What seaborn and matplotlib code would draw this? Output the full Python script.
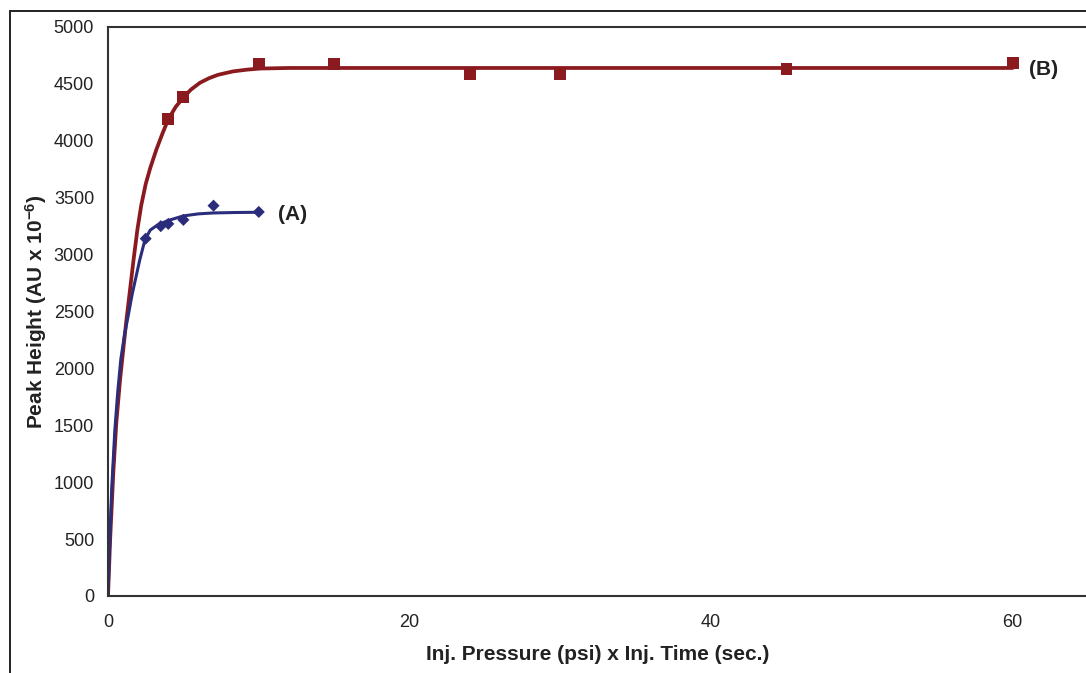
import matplotlib
matplotlib.use("Agg")
import matplotlib.pyplot as plt
import seaborn as sns
from matplotlib.lines import Line2D

# --- DATA ---
# (A) measured points
a_x = [2.5, 3.5, 4, 5, 7, 10]
a_y = [3140, 3250, 3270, 3305, 3430, 3375]
# (B) measured points
b_x = [4, 5, 10, 15, 24, 30, 45, 60]
b_y = [4190, 4385, 4675, 4675, 4590, 4590, 4630, 4685]

# trend curves as traced on the picture
a_curve_x = [0, 0.1, 0.25, 0.45, 0.65, 0.85, 1.1, 1.35, 1.6, 1.85, 2.1, 2.45,
             2.8, 3.3, 4.0, 5.0, 6.0, 7.0, 8.5, 10]
a_curve_y = [0, 420, 950, 1450, 1800, 2080, 2300, 2470, 2650, 2800, 2950, 3130,
             3215, 3262, 3300, 3340, 3358, 3366, 3370, 3372]
b_curve_x = [0, 0.15, 0.35, 0.55, 0.8, 1.0, 1.2, 1.45, 1.7, 1.95, 2.2, 2.5, 2.8,
             3.2, 3.6, 4.0, 4.5, 5.0, 5.5, 6.1, 6.7, 7.3, 8.3, 9.2, 10.1, 12,
             15, 20, 30, 40, 50, 60]
b_curve_y = [0, 520, 1080, 1520, 1900, 2150, 2400, 2680, 2960, 3220, 3430, 3620,
             3760, 3920, 4060, 4190, 4300, 4380, 4450, 4510, 4550, 4580, 4610,
             4625, 4635, 4640, 4640, 4640, 4640, 4640, 4640, 4640]

x_ticks = [0, 20, 40, 60]
y_ticks = list(range(0, 5001, 500))

red = "#8B1A1E"
blue = "#2B2D7C"
dark = "#222222"

sns.set_style("white")
plt.rcParams["font.family"] = ["Liberation Sans", "DejaVu Sans"]
plt.rcParams["mathtext.fontset"] = "custom"
plt.rcParams["mathtext.rm"] = "Liberation Sans:bold"
plt.rcParams["mathtext.bf"] = "Liberation Sans:bold"
plt.rcParams["mathtext.default"] = "rm"

fig = plt.figure(figsize=(10.86, 6.73), dpi=100)
ax = fig.add_axes([108 / 1086, 77 / 673, 980 / 1086, 569 / 673])

sns.lineplot(x=b_curve_x, y=b_curve_y, color=red, linewidth=2.7, ax=ax,
             estimator=None, sort=False)
sns.lineplot(x=a_curve_x, y=a_curve_y, color=blue, linewidth=2.2, ax=ax,
             estimator=None, sort=False)
sns.scatterplot(x=b_x, y=b_y, marker="s", s=72, color=red, edgecolor="none",
                ax=ax, zorder=5)
sns.scatterplot(x=a_x, y=a_y, marker="D", s=38, color=blue, edgecolor="none",
                ax=ax, zorder=5)

ax.text(11.3, a_y[-1] - 25, "(A)", fontsize=15, fontweight="bold", color=dark,
        va="center", ha="left")
ax.text(61.1, b_y[-1] - 60, "(B)", fontsize=15, fontweight="bold", color=dark,
        va="center", ha="left")

ax.set_xlim(0, 65)
ax.set_ylim(0, 5000)
ax.set_xticks(x_ticks)
ax.set_yticks(y_ticks)
ax.tick_params(axis="both", direction="out", length=5, width=1.3, color=dark,
               labelsize=13, labelcolor=dark)
ax.tick_params(axis="x", pad=8)
ax.tick_params(axis="y", pad=5)

for side in ["left", "bottom", "top"]:
    ax.spines[side].set_color("#333333")
    ax.spines[side].set_linewidth(1.5)
ax.spines["right"].set_visible(False)

ax.set_xlabel("Inj. Pressure (psi) x Inj. Time (sec.)", fontsize=15,
              fontweight="bold", color=dark)
ax.set_ylabel("Peak Height (AU x 10$^{-6}$)", fontsize=15, fontweight="bold",
              color=dark)
ax.xaxis.set_label_coords(0.5, -0.086)
ax.yaxis.set_label_coords(-0.060, 0.5)

# outer frame of the original chart area
fig.add_artist(Line2D([10 / 1086, 10 / 1086], [0, 1 - 11 / 673],
                      transform=fig.transFigure, color=dark, linewidth=1.4))
fig.add_artist(Line2D([10 / 1086, 1.0], [1 - 11 / 673, 1 - 11 / 673],
                      transform=fig.transFigure, color=dark, linewidth=1.4))

fig.savefig("out.png", dpi=100)
